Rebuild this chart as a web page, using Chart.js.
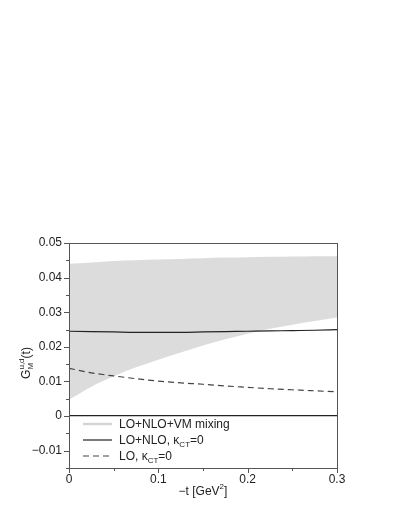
<!DOCTYPE html>
<html>
<head>
<meta charset="utf-8">
<script src="https://cdn.jsdelivr.net/npm/chart.js@4/dist/chart.umd.min.js"></script>
<style>
  html, body { margin: 0; padding: 0; background: #fff; }
  #wrap { width: 407px; height: 527px; position: relative; }
</style>
</head>
<body>
<div id="wrap"><canvas id="chart"></canvas></div>
<script>
/* ── Data ───────────────────────────────────────────── */
const tValues  = [0, 0.025, 0.05, 0.075, 0.1, 0.125, 0.15, 0.175, 0.2, 0.225, 0.25, 0.275, 0.3];
const bandLow  = [0.0047, 0.0085, 0.0115, 0.0141, 0.0163, 0.0184, 0.0204, 0.0222, 0.0238, 0.0252, 0.0264, 0.0275, 0.0285];
const bandHigh = [0.0440, 0.0444, 0.0448, 0.0450, 0.0452, 0.0454, 0.0456, 0.0458, 0.0459, 0.0460, 0.0461, 0.0462, 0.0462];
const nloLine  = [0.0245, 0.0244, 0.0243, 0.0242, 0.0242, 0.0242, 0.0243, 0.0244, 0.0245, 0.0246, 0.0247, 0.0248, 0.0250];
const loLine   = [0.0138, 0.0125, 0.0116, 0.0108, 0.0101, 0.0096, 0.0092, 0.0087, 0.0083, 0.0079, 0.0076, 0.0073, 0.0070];

const xLabels = { '0': '0', '100': '0.1', '200': '0.2', '300': '0.3' };
const yLabels = { '50': '0.05', '40': '0.04', '30': '0.03', '20': '0.02', '10': '0.01', '0': '0', '-10': '\u22120.01' };

const FONT = '"Liberation Sans", Arial, sans-serif';
const BAND = '#dcdcdc';

const pts = arr => arr.map((v, i) => ({ x: tValues[i], y: v }));

/* ── Frame, ticks, titles and legend ───────────────── */
const decor = {
  id: 'decor',
  afterDraw(chart) {
    const { ctx, chartArea: a, scales: { x, y } } = chart;
    ctx.save();
    ctx.strokeStyle = '#555';
    ctx.lineWidth = 1;
    ctx.strokeRect(a.left + 0.5, a.top + 0.5, a.right - a.left, a.bottom - a.top);

    // outward ticks, major every 0.1 / 0.01
    ctx.beginPath();
    for (let i = 0; i <= 6; i++) {
      const px = Math.round(x.getPixelForValue(i * 0.05)) + 0.5;
      const len = i % 2 === 0 ? 5 : 3;
      ctx.moveTo(px, a.bottom); ctx.lineTo(px, a.bottom + len);
    }
    for (let i = -3; i <= 10; i++) {
      const py = Math.round(y.getPixelForValue(i * 0.005)) + 0.5;
      const len = i % 2 === 0 ? 5 : 3;
      ctx.moveTo(a.left, py); ctx.lineTo(a.left - len, py);
    }
    ctx.stroke();

    ctx.fillStyle = '#222';
    ctx.textBaseline = 'alphabetic';

    // x title: −t [GeV²]
    const xt1 = '\u2212t [GeV', xt2 = ']';
    ctx.font = '12px ' + FONT;
    const w1 = ctx.measureText(xt1).width;
    ctx.font = '8px ' + FONT;
    const wS = ctx.measureText('2').width;
    ctx.font = '12px ' + FONT;
    const w2 = ctx.measureText(xt2).width;
    let sx = (a.left + a.right) / 2 - (w1 + wS + w2) / 2;
    const by = 495;
    ctx.fillText(xt1, sx, by); sx += w1;
    ctx.font = '8px ' + FONT; ctx.fillText('2', sx, by - 6); sx += wS;
    ctx.font = '12px ' + FONT; ctx.fillText(xt2, sx, by);

    // y title: G_M^{u,d}(t), rotated
    ctx.save();
    ctx.translate(30, 363);
    ctx.rotate(-Math.PI / 2);
    ctx.font = '12px ' + FONT;
    const gW = ctx.measureText('G').width;
    ctx.font = '8px ' + FONT;
    const supW = ctx.measureText('u,d').width;
    ctx.font = '12px ' + FONT;
    const tW = ctx.measureText('(t)').width;
    let lx = -(gW + supW + tW) / 2;
    ctx.fillText('G', lx, 0); lx += gW;
    ctx.font = '8px ' + FONT;
    ctx.fillText('M', lx, 3);
    ctx.fillText('u,d', lx, -6); lx += supW;
    ctx.font = '12px ' + FONT;
    ctx.fillText('(t)', lx, 0);
    ctx.restore();

    // legend
    const rows = [
      { color: '#d4d4d4', width: 2.5, dash: [], parts: [['LO+NLO+VM mixing', 0]] },
      { color: '#222', width: 1.2, dash: [], parts: [['LO+NLO, \u03ba', 0], ['CT', 1], ['=0', 0]] },
      { color: '#444', width: 1.2, dash: [6, 4], parts: [['LO, \u03ba', 0], ['CT', 1], ['=0', 0]] },
    ];
    rows.forEach((r, i) => {
      const ly = 424 + i * 16;
      ctx.strokeStyle = r.color;
      ctx.lineWidth = r.width;
      ctx.setLineDash(r.dash);
      ctx.beginPath();
      ctx.moveTo(83, ly); ctx.lineTo(112, ly);
      ctx.stroke();
      ctx.setLineDash([]);
      let tx = 119;
      r.parts.forEach(([s, sub]) => {
        ctx.font = (sub ? '8px ' : '12px ') + FONT;
        ctx.fillText(s, tx, ly + 4 + (sub ? 3 : 0));
        tx += ctx.measureText(s).width;
      });
    });
    ctx.restore();
  }
};

new Chart(document.getElementById('chart'), {
  type: 'line',
  data: {
    datasets: [
      { data: pts(bandLow), borderWidth: 0, borderColor: BAND, backgroundColor: BAND, pointRadius: 0, fill: false, order: 3 },
      { data: pts(bandHigh), borderWidth: 0, borderColor: BAND, backgroundColor: BAND, pointRadius: 0, fill: '-1', order: 2 },
      { data: pts(nloLine), borderColor: '#222', borderWidth: 1.2, pointRadius: 0, fill: false, order: 1 },
      { data: pts(loLine), borderColor: '#444', borderWidth: 1.2, borderDash: [6, 4], pointRadius: 0, fill: false, order: 0 },
    ]
  },
  options: {
    responsive: true,
    maintainAspectRatio: false,
    animation: false,
    events: [],
    cubicInterpolationMode: 'monotone',
    layout: { padding: { left: 0, top: 243, right: 70, bottom: 0 } },
    plugins: {
      legend: { display: false },
      tooltip: { enabled: false },
      filler: { drawTime: 'beforeDatasetsDraw' }
    },
    scales: {
      x: {
        type: 'linear', min: 0, max: 0.3,
        afterFit: s => { s.height = 59; },
        grid: { display: false, drawTicks: false },
        border: { display: false },
        ticks: {
          stepSize: 0.05, padding: 4, maxRotation: 0, autoSkip: false,
          color: '#222', font: { family: FONT, size: 12 },
          callback: v => xLabels[String(Math.round(v * 1000))] ?? ''
        }
      },
      y: {
        type: 'linear', min: -0.015, max: 0.05,
        afterFit: s => { s.width = 69; },
        grid: {
          drawTicks: false,
          color: c => (c.tick && Math.abs(c.tick.value) < 1e-9) ? '#222' : 'rgba(0,0,0,0)',
          lineWidth: 1.2
        },
        border: { display: false },
        ticks: {
          stepSize: 0.005, padding: 7, autoSkip: false,
          color: '#222', font: { family: FONT, size: 12 },
          callback: v => yLabels[String(Math.round(v * 1000))] ?? ''
        }
      }
    }
  },
  plugins: [decor]
});
</script>
</body>
</html>
